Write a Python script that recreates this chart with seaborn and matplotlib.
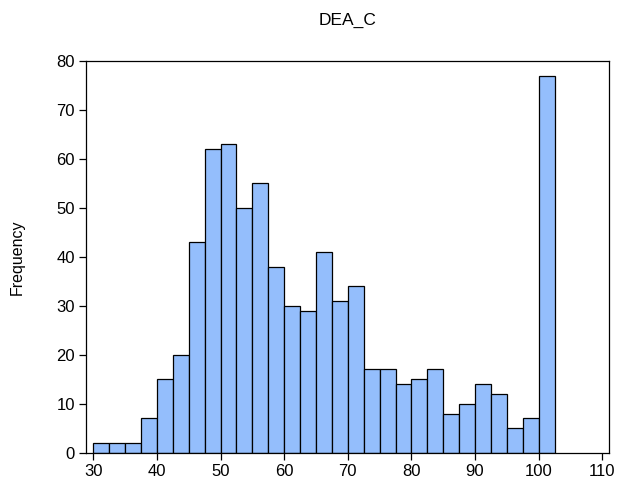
import numpy as np
import pandas as pd
import matplotlib
matplotlib.use("Agg")
import matplotlib.pyplot as plt
import seaborn as sns

# histogram bins (left edges, width 2.5) and counts
bin_left = [30, 32.5, 35, 37.5, 40, 42.5, 45, 47.5, 50, 52.5, 55, 57.5, 60, 62.5,
            65, 67.5, 70, 72.5, 75, 77.5, 80, 82.5, 85, 87.5, 90, 92.5, 95, 97.5, 100]
counts = [2, 2, 2, 7, 15, 20, 43, 62, 63, 50, 55, 38, 30, 29,
          41, 31, 34, 17, 17, 14, 15, 17, 8, 10, 14, 12, 5, 7, 77]
bin_width = 2.5
x_ticks = [30, 40, 50, 60, 70, 80, 90, 100, 110]
y_ticks = [0, 10, 20, 30, 40, 50, 60, 70, 80]

sns.set_style("white")
plt.rcParams["font.family"] = ["Liberation Sans", "DejaVu Sans"]
plt.rcParams["text.color"] = "black"
plt.rcParams["xtick.color"] = "black"
plt.rcParams["ytick.color"] = "black"
plt.rcParams["axes.labelcolor"] = "black"

df = pd.DataFrame({"DEA_C": np.array(bin_left) + bin_width / 2, "n": counts})

fig = plt.figure(figsize=(6.17, 4.82), dpi=100)
ax = fig.add_axes([0.1394, 0.0608, 0.8481, 0.8126])

sns.histplot(data=df, x="DEA_C", weights="n", binwidth=bin_width,
             binrange=(bin_left[0], bin_left[-1] + bin_width), ax=ax,
             color="#94BEFC", alpha=1, edgecolor="black", linewidth=0.9)

ax.set_xlim(28.85, 111.1)
ax.set_ylim(0, 80)
ax.set_xticks(x_ticks)
ax.set_yticks(y_ticks)
ax.tick_params(axis="both", direction="out", length=5, width=0.9,
               labelsize=12, pad=3, bottom=True, left=True)
for s in ax.spines.values():
    s.set_color("black")
    s.set_linewidth(0.9)

ax.set_xlabel("")
ax.set_ylabel("Frequency", fontsize=11.5)
ax.yaxis.set_label_coords(-0.118, 0.5)
ax.set_title("DEA_C", fontsize=12.5, pad=26)

fig.savefig("out.png", dpi=100)
